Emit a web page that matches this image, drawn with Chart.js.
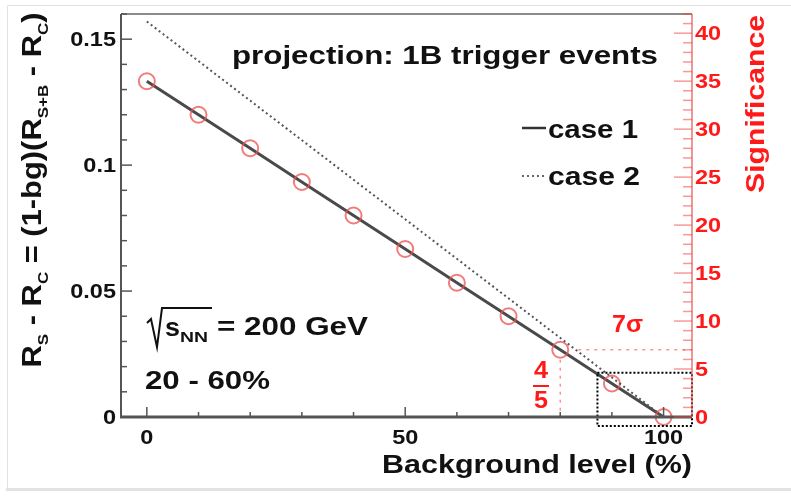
<!DOCTYPE html>
<html lang="en">
<head>
  <meta charset="UTF-8">
  <title>Background level vs significance</title>
  <script src="https://cdn.jsdelivr.net/npm/chart.js"></script>
  <style>
    body { margin: 0; background: #fff; }
    .container { position: relative; width: 791px; height: 497px; }
  </style>
</head>
<body>
  <div class="container">
    <canvas id="myChart"></canvas>
  </div>
  <script>
    // data
    const bgLevels = [0, 10, 20, 30, 40, 50, 60, 70, 80, 90, 100];
    const case1Values = [0.1333, 0.12, 0.1067, 0.0933, 0.08, 0.0667, 0.0533, 0.04, 0.0267, 0.0133, 0];
    const case2Levels = [0, 100];
    const case2Values = [0.157, 0];
    const xTickLabels = ['0', '50', '100'];
    const yTickLabels = ['0', '0.05', '0.1', '0.15'];
    const sigTickLabels = ['0', '5', '10', '15', '20', '25', '30', '35', '40'];
    const sigmaMark = 7;      // 7 sigma line
    const sigmaMarkBg = 80;   // at 80% background

    const FONT = '"Liberation Sans", Arial, sans-serif';
    const RED = '#ff1a1a';

    // draw text; width = target width, or a stretch factor if < 5
    function fitText(ctx, text, x, y, width, font, color, align) {
      ctx.save();
      ctx.font = font;
      ctx.fillStyle = color;
      ctx.textBaseline = 'middle';
      const w = ctx.measureText(text).width;
      const s = width > 5 ? width / w : (width || 1);
      let left = x;
      if (align === 'right') left = x - w * s;
      if (align === 'center') left = x - w * s / 2;
      ctx.translate(left, y);
      ctx.scale(s, 1);
      ctx.textAlign = 'left';
      ctx.fillText(text, 0, 0);
      ctx.restore();
    }

    // text made of normal and subscript parts, rotated -90deg
    function drawRotatedRich(ctx, parts, cx, cy, length, size, color) {
      ctx.save();
      ctx.translate(cx, cy);
      ctx.rotate(-Math.PI / 2);
      let total = 0;
      parts.forEach(p => {
        ctx.font = 'bold ' + (p.sub ? size * 0.55 : size) + 'px ' + FONT;
        p.w = ctx.measureText(p.t).width;
        total += p.w;
      });
      const s = length / total;
      ctx.scale(s, 1);
      ctx.fillStyle = color;
      ctx.textBaseline = 'middle';
      let xx = -total / 2;
      parts.forEach(p => {
        ctx.font = 'bold ' + (p.sub ? size * 0.55 : size) + 'px ' + FONT;
        ctx.fillText(p.t, xx, p.sub ? size * 0.35 : 0);
        xx += p.w;
      });
      ctx.restore();
    }

    const decorations = {
      id: 'decorations',
      afterDraw(chart) {
        const ctx = chart.ctx;
        const a = chart.chartArea;
        const xs = chart.scales.x, ys = chart.scales.y, ss = chart.scales.sig;

        // outer frame
        ctx.save();
        ctx.strokeStyle = '#e2e2e2';
        ctx.lineWidth = 1;
        ctx.beginPath();
        ctx.moveTo(7.5, 488); ctx.lineTo(7.5, 5.5); ctx.lineTo(791, 5.5);
        ctx.stroke();
        ctx.lineWidth = 3;
        ctx.beginPath();
        ctx.moveTo(6, 489.5); ctx.lineTo(791, 489.5);
        ctx.stroke();
        ctx.restore();

        // 7 sigma guide lines
        ctx.save();
        ctx.strokeStyle = 'rgba(255,60,60,0.55)';
        ctx.lineWidth = 1.5;
        ctx.setLineDash([3, 5]);
        const px = xs.getPixelForValue(sigmaMarkBg);
        const py = ss.getPixelForValue(sigmaMark);
        ctx.beginPath();
        ctx.moveTo(px + 18, py); ctx.lineTo(a.right, py);
        ctx.moveTo(px, py + 10); ctx.lineTo(px, a.bottom);
        ctx.stroke();
        ctx.restore();

        // zoom box
        ctx.save();
        ctx.strokeStyle = '#000';
        ctx.lineWidth = 2;
        ctx.setLineDash([2, 2]);
        const bx1 = xs.getPixelForValue(87.2), bx2 = a.right;
        const by1 = ss.getPixelForValue(4.6), by2 = ss.getPixelForValue(-0.95);
        ctx.strokeRect(bx1, by1, bx2 - bx1, by2 - by1);
        ctx.restore();

        // axes
        ctx.save();
        ctx.lineWidth = 2;
        ctx.strokeStyle = '#8a8a8a';
        ctx.beginPath();
        ctx.moveTo(a.left, a.top); ctx.lineTo(a.right, a.top);
        ctx.stroke();
        ctx.strokeStyle = '#555';
        ctx.beginPath();
        ctx.moveTo(a.left, a.top); ctx.lineTo(a.left, a.bottom);
        ctx.stroke();
        ctx.lineWidth = 3;
        ctx.beginPath();
        ctx.moveTo(a.left - 1, a.bottom); ctx.lineTo(a.right, a.bottom);
        ctx.stroke();
        ctx.strokeStyle = 'rgba(230,80,80,0.6)';
        ctx.lineWidth = 2;
        ctx.beginPath();
        ctx.moveTo(a.right, a.top); ctx.lineTo(a.right, a.bottom);
        ctx.stroke();

        // left ticks
        ctx.strokeStyle = '#555';
        ctx.lineWidth = 1.5;
        for (let i = 0; i <= 16; i++) {
          const y = ys.getPixelForValue(i / 100);
          const len = i % 5 === 0 ? 11 : 6;
          ctx.beginPath(); ctx.moveTo(a.left, y); ctx.lineTo(a.left + len, y); ctx.stroke();
        }
        // bottom ticks
        for (let v = 0; v <= 100; v += 10) {
          const x = xs.getPixelForValue(v);
          const len = v % 50 === 0 ? 10 : 5;
          ctx.beginPath(); ctx.moveTo(x, a.bottom); ctx.lineTo(x, a.bottom - len); ctx.stroke();
        }
        // right ticks
        ctx.strokeStyle = 'rgba(240,70,70,0.55)';
        for (let v = 0; v <= 42; v++) {
          const y = ss.getPixelForValue(v);
          const len = v % 5 === 0 ? 18 : 9;
          ctx.beginPath(); ctx.moveTo(a.right, y); ctx.lineTo(a.right - len, y); ctx.stroke();
        }
        ctx.restore();

        // tick labels
        const tickFont = 'bold 21px ' + FONT;
        yTickLabels.forEach(t => {
          fitText(ctx, t, 116, ys.getPixelForValue(parseFloat(t)) + 1, 1.12, tickFont, '#111', 'right');
        });
        xTickLabels.forEach(t => {
          fitText(ctx, t, xs.getPixelForValue(parseFloat(t)), 438, 1.12, tickFont, '#111', 'center');
        });
        sigTickLabels.forEach(t => {
          fitText(ctx, t, 695, ss.getPixelForValue(parseFloat(t)) + 1, 1.12, tickFont, RED, 'left');
        });

        // axis titles
        fitText(ctx, 'Background level (%)', 692, 466, 310, 'bold 26px ' + FONT, '#111', 'right');
        drawRotatedRich(ctx, [
          { t: 'R' }, { t: 'S', sub: true }, { t: ' - R' }, { t: 'C', sub: true },
          { t: ' = (1-bg)(R' }, { t: 'S+B', sub: true }, { t: ' - R' }, { t: 'C', sub: true }, { t: ')' }
        ], 34, 190, 355, 27, '#111');
        drawRotatedRich(ctx, [{ t: 'Significance' }], 757, 104, 178, 26, RED);

        // labels inside the plot
        const big = 'bold 26px ' + FONT;
        fitText(ctx, 'projection: 1B trigger events', 232, 57, 426, big, '#111', 'left');

        ctx.save();
        ctx.strokeStyle = '#333';
        ctx.lineWidth = 2.5;
        ctx.beginPath(); ctx.moveTo(522, 128); ctx.lineTo(546, 128); ctx.stroke();
        ctx.strokeStyle = '#666';
        ctx.lineWidth = 2;
        ctx.setLineDash([2, 3]);
        ctx.beginPath(); ctx.moveTo(522, 176); ctx.lineTo(546, 176); ctx.stroke();
        ctx.restore();
        fitText(ctx, 'case 1', 548, 131, 90, big, '#111', 'left');
        fitText(ctx, 'case 2', 548, 178, 92, big, '#111', 'left');

        // sqrt(s_NN) = 200 GeV
        ctx.save();
        ctx.strokeStyle = '#111';
        ctx.lineWidth = 2;
        ctx.beginPath();
        ctx.moveTo(147, 323); ctx.lineTo(151, 319); ctx.lineTo(157, 347);
        ctx.lineTo(162, 308); ctx.lineTo(212, 308);
        ctx.stroke();
        ctx.restore();
        fitText(ctx, 's', 165, 329, 15, big, '#111', 'left');
        fitText(ctx, 'NN', 180, 338, 28, 'bold 14px ' + FONT, '#111', 'left');
        fitText(ctx, '= 200 GeV', 217, 328, 151, big, '#111', 'left');
        fitText(ctx, '20 - 60%', 145, 382, 125, big, '#111', 'left');

        // 7 sigma and 4/5
        fitText(ctx, '7\u03c3', 612, 325, 31, 'bold 24px ' + FONT, RED, 'left');
        fitText(ctx, '4', 541, 372, 14, 'bold 23px ' + FONT, RED, 'center');
        fitText(ctx, '5', 541, 402, 14, 'bold 23px ' + FONT, RED, 'center');
        ctx.save();
        ctx.strokeStyle = RED;
        ctx.lineWidth = 2;
        ctx.beginPath(); ctx.moveTo(533, 386); ctx.lineTo(549, 386); ctx.stroke();
        ctx.restore();
      }
    };

    const ctx = document.getElementById('myChart').getContext('2d');
    const myChart = new Chart(ctx, {
      type: 'scatter',
      data: {
        datasets: [
          {
            label: 'case 2',
            data: case2Levels.map((x, i) => ({ x: x, y: case2Values[i] })),
            showLine: true,
            borderColor: '#555',
            borderWidth: 2,
            borderDash: [2, 3],
            pointRadius: 0,
            clip: false
          },
          {
            label: 'case 1',
            data: bgLevels.map((x, i) => ({ x: x, y: case1Values[i] })),
            showLine: true,
            borderColor: '#4a4a4a',
            borderWidth: 3,
            pointRadius: 8,
            pointHoverRadius: 8,
            pointBorderWidth: 2,
            pointBorderColor: 'rgba(235,80,80,0.75)',
            pointBackgroundColor: 'rgba(0,0,0,0)',
            clip: false
          }
        ]
      },
      options: {
        responsive: true,
        maintainAspectRatio: false,
        animation: false,
        events: [],
        layout: { padding: { left: 121, right: 99, top: 14, bottom: 80 } },
        scales: {
          x: { type: 'linear', min: -5, max: 105.5, display: false },
          y: { type: 'linear', min: 0, max: 0.16, display: false },
          sig: { type: 'linear', position: 'right', min: 0, max: 42, display: false }
        },
        plugins: {
          legend: { display: false },
          tooltip: { enabled: false }
        }
      },
      plugins: [decorations]
    });
  </script>
</body>
</html>
